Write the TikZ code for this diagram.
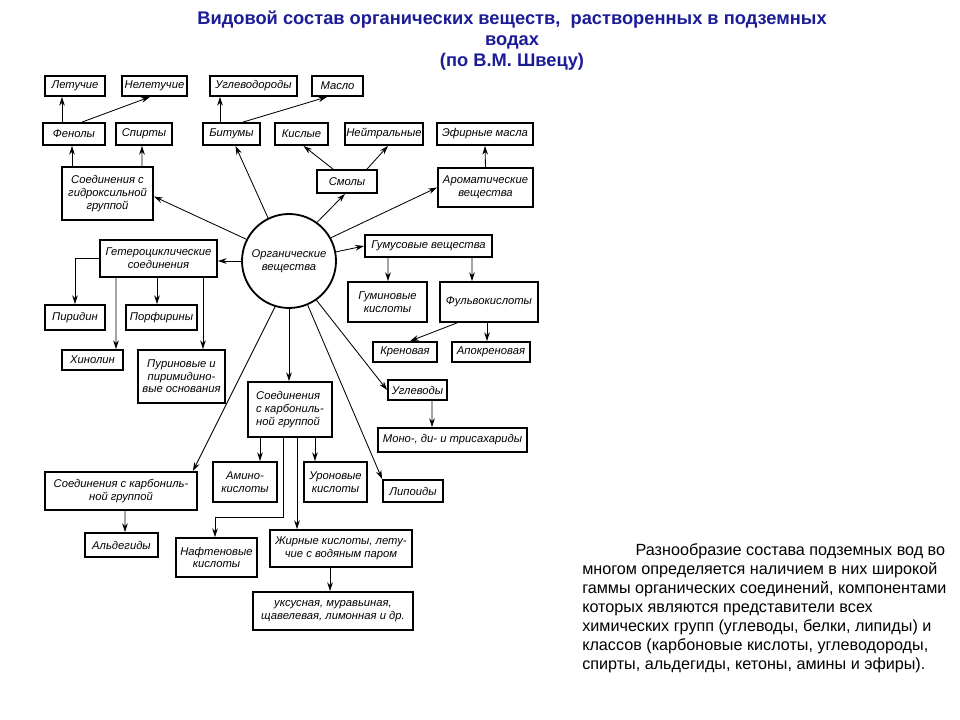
\documentclass[tikz,border=0pt]{standalone}
\usepackage{fontspec}
\setmainfont{Liberation Sans}
\usepackage{tikz}
\usetikzlibrary{arrows.meta,calc}
\definecolor{ttl}{RGB}{28,28,150}
\tikzset{
  box/.style={draw,line width=1.3pt,align=center,font=\fontsize{8}{9}\selectfont\itshape,inner sep=1pt},
  sz/.style 2 args={minimum width=#1*0.025cm,minimum height=#2*0.025cm},
  arr/.style={-{Stealth[length=2.2mm,width=1.4mm]},line width=0.6pt},
}

\begin{document}
\begin{tikzpicture}[x=0.025cm,y=-0.025cm]
\useasboundingbox (0,0) rectangle (960,720);
\node[font=\fontsize{13}{15}\selectfont\bfseries,text=ttl,align=center] (title) at (512,41)
  {Видовой состав органических веществ,\ \ растворенных в подземных\\водах\\(по В.М. Швецу)};
\node[anchor=north west,align=left,font=\fontsize{11.5}{13.5}\selectfont,inner sep=0pt] (txt) at (582,543)
  {\hspace*{3.3em}Разнообразие состава подземных вод во\\
   многом определяется наличием в них широкой\\
   гаммы органических соединений, компонентами\\
   которых являются представители всех\\
   химических групп (углеводы, белки, липиды) и\\
   классов (карбоновые кислоты, углеводороды,\\
   спирты, альдегиды, кетоны, амины и эфиры).};
% upper branches
\node[box,sz={60}{20}] (let) at (75,86) {Летучие};
\node[box,sz={65}{20}] (nlt) at (154.5,86) {Нелетучие};
\node[box,sz={87}{20}] (ugl) at (253.5,86) {Углеводороды};
\node[box,sz={51}{20}] (masl) at (337.5,86) {Масло};
\node[box,sz={62}{22}] (fen) at (74,134) {Фенолы};
\node[box,sz={56}{22}] (spir) at (144,134) {Спирты};
\node[box,sz={57}{22}] (bit) at (231.5,134) {Битумы};
\node[box,sz={53}{22}] (kisl) at (301.5,134) {Кислые};
\node[box,sz={78}{22}] (neit) at (384,134) {Нейтральные};
\node[box,sz={96}{22}] (efir) at (485,134) {Эфирные масла};
\node[box,sz={91}{53}] (gidr) at (107.5,193.5) {Соединения с\\гидроксильной\\группой};
\node[box,sz={60}{23}] (smol) at (347,181.5) {Смолы};
\node[box,sz={95}{39}] (arom) at (485.5,187.5) {Ароматические\\вещества};
\node[box,circle,minimum size=94*0.025cm] (org) at (289,261) {Органические\\вещества};
% left and right branches
\node[box,sz={117}{37}] (get) at (158.5,258.5) {Гетероциклические\\соединения};
\node[box,sz={60}{25}] (pir) at (75,317.5) {Пиридин};
\node[box,sz={71}{25}] (porf) at (161.5,317.5) {Порфирины};
\node[box,sz={61}{20}] (hin) at (92.5,360) {Хинолин};
\node[box,sz={87}{53}] (pur) at (181.5,376.5) {Пуриновые и\\пиримидино-\\вые основания};
\node[box,sz={127}{22}] (gum) at (428.5,246) {Гумусовые вещества};
\node[box,sz={79}{40}] (guk) at (387.5,302) {Гуминовые\\кислоты};
\node[box,sz={98}{40}] (fulv) at (489,302) {Фульвокислоты};
\node[box,sz={64}{20}] (kren) at (405,352) {Креновая};
\node[box,sz={78}{20}] (apok) at (491,352) {Апокреновая};
\node[box,sz={59}{20}] (uglv) at (417.5,390) {Углеводы};
\node[box,sz={149}{24}] (mono) at (452.5,440) {Моно-, ди- и трисахариды};
% lower branches
\node[box,sz={84}{55},align=left] (karbm) at (290,409.5) {Соединения\\с карбониль-\\ной группой};
\node[box,sz={152}{38}] (karbl) at (121,491) {Соединения с карбониль-\\ной группой};
\node[box,sz={64}{40}] (amin) at (245,482) {Амино-\\кислоты};
\node[box,sz={63}{40}] (uron) at (335.5,482) {Уроновые\\кислоты};
\node[box,sz={60}{22}] (lip) at (413,491) {Липоиды};
\node[box,sz={73}{24}] (ald) at (121.5,545) {Альдегиды};
\node[box,sz={81}{39}] (naft) at (216.5,557.5) {Нафтеновые\\кислоты};
\node[box,sz={142}{37}] (zhir) at (341,548.5) {Жирные кислоты, лету-\\чие с водяным паром};
\node[box,sz={160}{38}] (uks) at (333,611) {уксусная, муравьиная,\\щавелевая, лимонная и др.};
% connectors
\draw[arr] ($(fen.north)+(-12,0)$) -- ($(let.south)+(-13,0)$);
\draw[arr] ($(fen.north)+(8,0)$) -- ($(nlt.south)+(-4.5,0)$);
\draw[arr] ($(bit.north)+(-11.5,0)$) -- ($(ugl.south)+(-33.5,0)$);
\draw[arr] ($(bit.north)+(11.5,0)$) -- ($(masl.south)+(-10.5,0)$);
\draw[arr] ($(gidr.north)+(-35.5,0)$) -- ($(fen.south)+(-2,0)$);
\draw[arr] ($(gidr.north)+(34.5,0)$) -- ($(spir.south)+(-2,0)$);
\draw[arr] ($(smol.north)+(-14,0)$) -- ($(kisl.south)+(2,0)$);
\draw[arr] ($(smol.north)+(20,0)$) -- ($(neit.south)+(4,0)$);
\draw[arr] (arom.north) -- (efir.south);
\draw[arr] (org.153) -- ($(gidr.east)+(0,3)$);
\draw[arr] (org.116) -- ($(bit.south)+(4,0)$);
\draw[arr] (org.54) -- ($(smol.south)+(-2,0)$);
\draw[arr] (org.29) -- (arom.west);
\draw[arr] (org.west) -- (org.west -| get.east);
\draw[arr] (org.11) -- (gum.west);
\draw[arr] (org.-55) -- (uglv.west);
\draw[arr] (org.-67) -- (lip.north west);
\draw[arr] (org.south) -- (org.south |- karbm.north);
\draw[arr] (org.253) -- ($(karbl.north east)+(-5,0)$);
\draw[arr] (get.west) -| (pir.north);
\draw[arr] ($(get.south)+(-42.5,0)$) -- ($(hin.north)+(23.5,0)$);
\draw[arr] ($(get.south)+(-1.5,0)$) -- ($(porf.north)+(-4.5,0)$);
\draw[arr] ($(get.south)+(44.5,0)$) -- ($(pur.north)+(21.5,0)$);
\draw[arr] ($(gum.south)+(-40.5,0)$) -- ($(guk.north)+(0.5,0)$);
\draw[arr] ($(gum.south)+(43.5,0)$) -- ($(fulv.north)+(-17,0)$);
\draw[arr] ($(fulv.south)+(-32,0)$) -- ($(kren.north)+(5,0)$);
\draw[arr] ($(fulv.south)+(-2,0)$) -- ($(apok.north)+(-4,0)$);
\draw[arr] ($(uglv.south)+(14.5,0)$) -- ($(mono.north)+(-20.5,0)$);
\draw[arr] ($(karbm.south)+(-30,0)$) -- ($(amin.north)+(15,0)$);
\draw[arr] ($(karbm.south)+(-7,0)$) -- ++(0,80) -| ($(naft.north)+(-1.5,0)$);
\draw[arr] ($(karbm.south)+(7,0)$) -- ($(zhir.north)+(-44,0)$);
\draw[arr] ($(karbm.south)+(25,0)$) -- ($(uron.north)+(-20.5,0)$);
\draw[arr] ($(karbl.south)+(4,0)$) -- ($(ald.north)+(3.5,0)$);
\draw[arr] ($(zhir.south)+(-11,0)$) -- ($(uks.north)+(-3,0)$);
\end{tikzpicture}
\end{document}
